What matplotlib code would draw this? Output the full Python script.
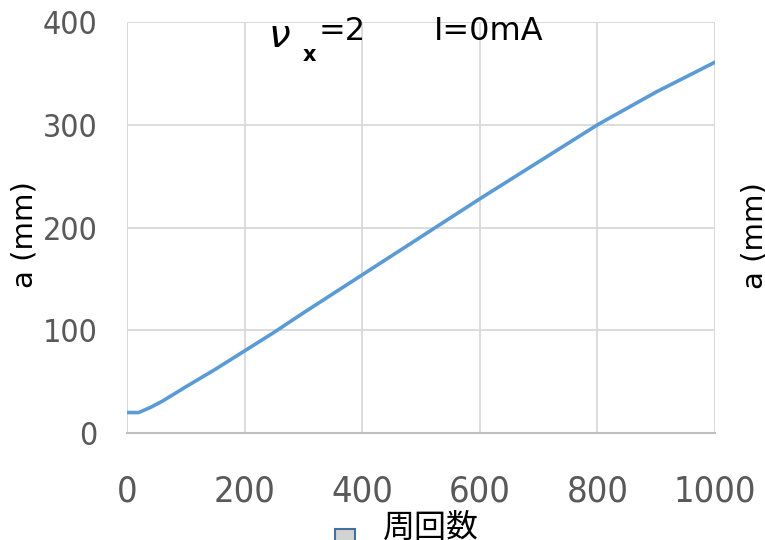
import matplotlib.pyplot as plt
from matplotlib.patches import Patch

# データ (周回数 vs a)
turns = [0, 20, 40, 60, 80, 100, 150, 200, 250, 300, 400, 500, 600, 700, 800, 900, 1000]
a_mm = [20, 20, 25, 31, 38, 45, 62, 80, 98, 117, 154, 191, 228, 264, 300, 332, 361]

x_ticks = [0, 200, 400, 600, 800, 1000]
y_ticks = [0, 100, 200, 300, 400]

tick_font = ['DejaVu Sans']
cjk_font = ['Noto Sans CJK JP', 'DejaVu Sans']

fig = plt.figure(figsize=(7.65, 5.4), dpi=100)
ax = fig.add_axes([0.166, 0.198, 0.7686, 0.761])

ax.plot(turns, a_mm, color='#5b9bd5', linewidth=2.6)

ax.set_xlim(0, 1000)
ax.set_ylim(0, 400)
ax.set_xticks(x_ticks)
ax.set_yticks(y_ticks)
ax.set_xticklabels([str(v) for v in x_ticks], fontsize=26, color='#595959',
                   family=tick_font, fontstretch='condensed')
ax.set_yticklabels([str(v) for v in y_ticks], fontsize=23, color='#595959',
                   family=tick_font, fontstretch='condensed')
ax.tick_params(axis='x', length=0, pad=30)
ax.tick_params(axis='y', length=0, pad=21)

# グリッド
ax.grid(True, color='#d9d9d9', linewidth=1.3)
ax.set_axisbelow(True)
for side in ['top', 'right', 'left']:
    ax.spines[side].set_visible(False)
ax.spines['bottom'].set_color('#bfbfbf')
ax.spines['bottom'].set_linewidth(1.5)
# 右端・上端・左端のグリッド線
ax.axvline(1000, color='#d9d9d9', linewidth=1.3, zorder=0)
ax.axhline(400, color='#d9d9d9', linewidth=1.3, zorder=0)
ax.axvline(0, color='#d9d9d9', linewidth=1.3, zorder=0)

# 縦軸ラベル
ax.set_ylabel('a (mm)', fontsize=21, color='black')
ax.yaxis.set_label_coords(-0.151, 0.484)

# 横軸ラベル (下端で切れている)
ax.set_xlabel('周回数', fontsize=23, family=cjk_font)
ax.xaxis.set_label_coords(0.517, -0.192)

# タイトル
fig.text(268 / 765, 1 - 36 / 540, r'$\nu$', fontsize=28, ha='left', va='center')
fig.text(303 / 765, 1 - 55 / 540, 'x', fontsize=15, fontweight='bold', ha='left', va='center')
fig.text(319 / 765, 1 - 32 / 540, '=2', fontsize=23, ha='left', va='center')
fig.text(434 / 765, 1 - 32 / 540, 'I=0mA', fontsize=23, ha='left', va='center')

# 凡例マーカー (下部、切れている)
leg = fig.legend(handles=[Patch(facecolor='#d3d3d3', edgecolor='#41719c', linewidth=1.5)],
                 labels=[''], loc='upper left', bbox_to_anchor=(335 / 765, 1 - 529 / 540),
                 frameon=False, borderpad=0, borderaxespad=0, handlelength=1.0,
                 handleheight=1.0, handletextpad=0, prop={'size': 14.4})

# 右隣のグラフの縦軸ラベル (一部のみ見える)
fig.text(755 / 765, 1 - 236 / 540, 'a (mm)', fontsize=21, rotation=90, ha='center', va='center')

fig.savefig('out.png', dpi=100)
